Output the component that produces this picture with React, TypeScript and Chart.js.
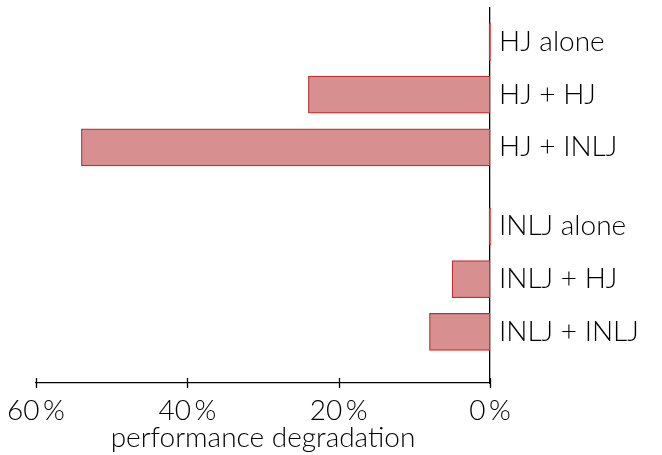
import React, { useEffect, useRef } from "react";
import { Chart, registerables } from "chart.js";

Chart.register(...registerables);

const categories = ["HJ alone", "HJ + HJ", "HJ + INLJ", "INLJ alone", "INLJ + HJ", "INLJ + INLJ"];
const positions = [0, 1, 2, 3.5, 4.5, 5.5];
const degradation = [0, 24, 54, 0, 5, 8];
const xTicks = [0, 20, 40, 60];

const FONT = "Lato, 'DejaVu Sans', sans-serif";

const crossTicks = {
  id: "crossTicks",
  afterDraw(chart: any) {
    const x = chart.scales.x;
    const ctx = chart.ctx;
    ctx.save();
    ctx.strokeStyle = "#000";
    ctx.lineWidth = 1.3;
    const y = x.top;
    xTicks.forEach((v) => {
      const px = Math.round(x.getPixelForValue(v)) + 0.5;
      ctx.beginPath();
      ctx.moveTo(px, y - 5);
      ctx.lineTo(px, y + 5);
      ctx.stroke();
    });
    ctx.restore();
  },
};

export default function App() {
  const ref = useRef<HTMLCanvasElement>(null);
  useEffect(() => {
    const chart = new Chart(ref.current!, {
      type: "bar",
      data: {
        datasets: [
          {
            data: positions.map((p, i) => ({ x: degradation[i], y: p })),
            backgroundColor: "rgb(215,143,143)",
            borderColor: "rgb(196,45,45)",
            borderWidth: 1.2,
            borderSkipped: false,
            barThickness: 37,
            minBarLength: 2,
            clip: false,
          },
        ],
      },
      plugins: [crossTicks],
      options: {
        indexAxis: "y",
        animation: false,
        responsive: true,
        maintainAspectRatio: false,
        layout: { padding: { left: 36, top: 8, right: 0, bottom: 0 } },
        plugins: { legend: { display: false }, tooltip: { enabled: false } },
        scales: {
          x: {
            type: "linear",
            reverse: true,
            min: 0,
            max: 60,
            afterBuildTicks: (s: any) => {
              s.ticks = xTicks.map((v) => ({ value: v }));
            },
            afterFit: (s: any) => {
              s.height = 72;
              s.paddingLeft = 0;
              s.paddingRight = 0;
            },
            grid: { display: false },
            border: { display: true, color: "#000", width: 1.3 },
            ticks: {
              padding: 3,
              color: "#000",
              font: { family: FONT, size: 28, weight: 300 },
              maxRotation: 0,
              callback: (v: any) => v + "\u2009%",
            },
            title: {
              display: true,
              text: "performance degradation",
              color: "#000",
              font: { family: FONT, size: 28, weight: 300 },
              padding: { top: -2, bottom: 0 },
            },
          },
          y: {
            type: "linear",
            position: "right",
            reverse: true,
            offset: false,
            min: -0.645,
            max: 6.47,
            afterBuildTicks: (s: any) => {
              s.ticks = positions.map((v) => ({ value: v }));
            },
            afterFit: (s: any) => {
              s.width = 172;
              s.paddingTop = 0;
              s.paddingBottom = 0;
            },
            grid: { display: false },
            border: { display: true, color: "#000", width: 1.3 },
            ticks: {
              padding: 1,
              color: "#000",
              font: { family: FONT, size: 28, weight: 300 },
              callback: (v: any) => {
                const i = positions.indexOf(Number(v));
                return i >= 0 ? categories[i] : "";
              },
            },
          },
        },
      },
    } as any);
    return () => chart.destroy();
  }, []);
  return (
    <div style={{ position: "fixed", left: 0, top: 0, width: 662, height: 455, background: "#fff" }}>
      <canvas ref={ref} />
    </div>
  );
}
